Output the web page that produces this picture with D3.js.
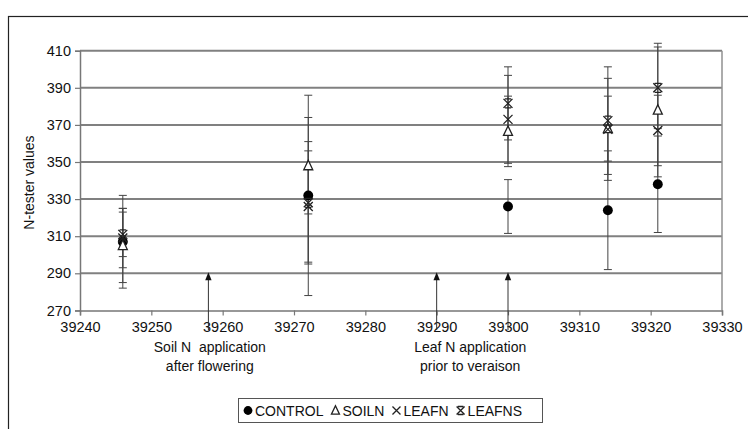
<!DOCTYPE html>
<html>
<head>
<meta charset="utf-8">
<script src="https://cdn.jsdelivr.net/npm/d3@7"></script>
<style>
  html, body { margin: 0; padding: 0; background: #fff; }
  svg { display: block; }
  text { font-family: "Liberation Sans", Arial, sans-serif; fill: #111; }
</style>
</head>
<body>
<svg id="chart" width="748" height="429"></svg>
<script>
// ---- data ----
const dates = [39246, 39272, 39300, 39314, 39321];
const seriesNames = ["CONTROL", "SOILN", "LEAFN", "LEAFNS"];
const control    = [307, 332, 326, 324, 338];
const controlErr = [25, 54, 14.5, 32, 26];
const soilN      = [305, 348, 366.5, 368, 378];
const soilNErr   = [20, 26, 19, 17.5, 36];
const leafN      = [309, 326, 373, 367.6, 367];
const leafNErr   = [16, 30, 23.7, 27.5, 19];
const leafNS     = [311, 328, 381.6, 372.3, 390];
const leafNSErr  = [12, 33, 19.7, 29, 22];
const yTicks = [270, 290, 310, 330, 350, 370, 390, 410];
const xTicks = [39240, 39250, 39260, 39270, 39280, 39290, 39300, 39310, 39320, 39330];
const arrowDates = [39258, 39290, 39300];
const noteDates = [39258.2, 39294.7];
const noteLines = [["Soil N  application", "after flowering"], ["Leaf N application", "prior to veraison"]];
const yTitle = "N-tester values";

// ---- layout ----
const svg = d3.select("#chart");
const x = d3.scaleLinear().domain([39240, 39330]).range([80, 722]);
const y = d3.scaleLinear().domain([270, 410]).range([310.4, 50.7]);

// outer frame
svg.append("rect").attr("x", 8.5).attr("y", 16.5).attr("width", 760).attr("height", 430)
  .attr("fill", "none").attr("stroke", "#222").attr("stroke-width", 1.2);

// gridlines
svg.append("g").selectAll("line").data(yTicks.filter(v => v > 270)).join("line")
  .attr("x1", x(39240)).attr("x2", x(39330))
  .attr("y1", d => y(d)).attr("y2", d => y(d))
  .attr("stroke", "#808080").attr("stroke-width", 2);
// right border of plot area
svg.append("line").attr("x1", x(39330)).attr("x2", x(39330)).attr("y1", y(410)).attr("y2", y(270))
  .attr("stroke", "#909090").attr("stroke-width", 1.5);

// axes
const yAxis = d3.axisLeft(y).tickValues(yTicks).tickSize(5).tickPadding(4).tickFormat(d3.format("d"));
const gy = svg.append("g").attr("transform", `translate(${x(39240)},0)`).call(yAxis);
const xAxis = d3.axisBottom(x).tickValues(xTicks).tickSize(5).tickPadding(4).tickFormat(d3.format("d"));
const gx = svg.append("g").attr("transform", `translate(0,${y(270)})`).call(xAxis);
[gx, gy].forEach(g => {
  g.select(".domain").attr("stroke", "#777").attr("stroke-width", 1.5);
  g.selectAll(".tick line").attr("stroke", "#777").attr("stroke-width", 1.2);
  g.selectAll(".tick text").attr("font-size", 14.5).attr("fill", "#111")
    .attr("font-family", "'Liberation Sans', Arial, sans-serif");
});
gx.selectAll(".tick text").attr("dy", "0.9em");

// y title
svg.append("text").attr("transform", `translate(34,${(y(410) + y(270)) / 2 + 2}) rotate(-90)`)
  .attr("text-anchor", "middle").attr("font-size", 14).text(yTitle);

// annotation arrows
const ag = svg.append("g");
arrowDates.forEach(d => {
  const xp = x(d);
  ag.append("line").attr("x1", xp).attr("x2", xp).attr("y1", y(287)).attr("y2", 330)
    .attr("stroke", "#333").attr("stroke-width", 1);
  ag.append("path")
    .attr("d", `M${xp},${y(290.5)} L${xp - 3.2},${y(290.5) + 8} L${xp + 3.2},${y(290.5) + 8} Z`)
    .attr("fill", "#111");
});
noteDates.forEach((d, i) => {
  noteLines[i].forEach((t, j) => {
    svg.append("text").attr("x", x(d)).attr("y", 352 + j * 19)
      .attr("text-anchor", "middle").attr("font-size", 14)
      .style("white-space", "pre").text(t);
  });
});

// markers
function drawMarker(g, type, cx, cy, s) {
  if (type === "CONTROL") {
    g.append("circle").attr("cx", cx).attr("cy", cy).attr("r", s * 0.55).attr("fill", "#000");
  } else if (type === "SOILN") {
    g.append("path").attr("d", `M${cx},${cy - s * 0.6} L${cx - s * 0.5},${cy + s * 0.45} L${cx + s * 0.5},${cy + s * 0.45} Z`)
      .attr("fill", "#fff").attr("stroke", "#222").attr("stroke-width", 1.3);
  } else if (type === "LEAFN") {
    const h = s * 0.5;
    g.append("path").attr("d", `M${cx - h},${cy - h} L${cx + h},${cy + h} M${cx + h},${cy - h} L${cx - h},${cy + h}`)
      .attr("stroke", "#222").attr("stroke-width", 1.3).attr("fill", "none");
  } else {
    const h = s * 0.5;
    g.append("path").attr("d", `M${cx - h},${cy - h} L${cx + h},${cy + h} M${cx + h},${cy - h} L${cx - h},${cy + h} M${cx - h * 0.7},${cy - h} L${cx + h * 0.7},${cy - h} M${cx - h * 0.7},${cy + h} L${cx + h * 0.7},${cy + h}`)
      .attr("stroke", "#222").attr("stroke-width", 1.3).attr("fill", "none");
  }
}

const series = [
  { name: "CONTROL", vals: control, errs: controlErr },
  { name: "SOILN", vals: soilN, errs: soilNErr },
  { name: "LEAFN", vals: leafN, errs: leafNErr },
  { name: "LEAFNS", vals: leafNS, errs: leafNSErr }
];

// error bars
const eg = svg.append("g");
series.forEach(s => {
  dates.forEach((d, i) => {
    const xp = x(d), top = y(s.vals[i] + s.errs[i]), bot = y(s.vals[i] - s.errs[i]);
    eg.append("line").attr("x1", xp).attr("x2", xp).attr("y1", top).attr("y2", bot)
      .attr("stroke", "#444").attr("stroke-width", 1);
    [top, bot].forEach(yy => eg.append("line").attr("x1", xp - 4).attr("x2", xp + 4)
      .attr("y1", yy).attr("y2", yy).attr("stroke", "#444").attr("stroke-width", 1));
  });
});
const mg = svg.append("g");
series.forEach(s => {
  dates.forEach((d, i) => drawMarker(mg, s.name, x(d), y(s.vals[i]), 9));
});

// legend
const lg = svg.append("g");
const legX = 238, legY = 398, legW = 304, legH = 24;
lg.append("rect").attr("x", legX + 0.5).attr("y", legY + 0.5).attr("width", legW).attr("height", legH)
  .attr("fill", "#fff").attr("stroke", "#555").attr("stroke-width", 1);
let cx = legX + 10;
seriesNames.forEach(n => {
  drawMarker(lg, n, cx, legY + 12.5, 8);
  const t = lg.append("text").attr("x", cx + 7).attr("y", legY + 17.5).attr("font-size", 14).text(n);
  cx += 7 + t.node().getComputedTextLength() + 12;
});
</script>
</body>
</html>
